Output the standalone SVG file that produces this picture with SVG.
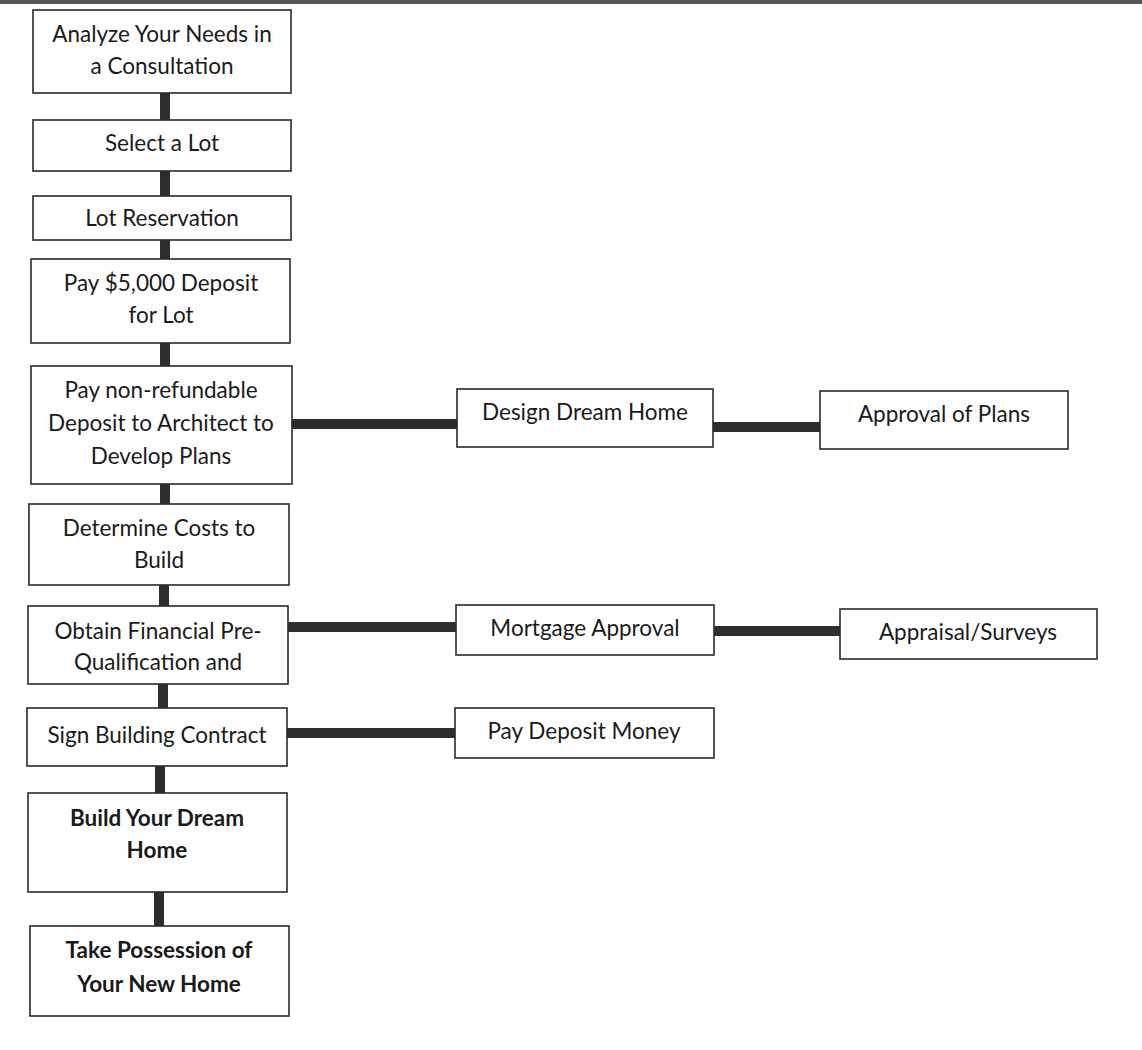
<svg xmlns="http://www.w3.org/2000/svg" width="1142" height="1050" viewBox="0 0 1142 1050">
<style>
.b{fill:#fff;stroke:#2a2a2a;stroke-width:1.6}
.t{font-family:Lato,"Open Sans",sans-serif;font-size:22.5px;fill:#1a1a1a;text-anchor:middle}
.bd{font-weight:bold;font-size:22.5px}
.c{stroke:#2e2e2e;stroke-width:10;fill:none}
</style>
<rect width="1142" height="1050" fill="#fff"/>
<rect width="1142" height="4" fill="#555"/>
<g id="connectors">
<path class="c" d="M165 93V120M165 171V196M165 240V259M165 343V366M165 484V504M164 585V606M163 684V708M160 766V793M159 892V926"/>
<path class="c" d="M292 424H457M713 427H820M288 627H456M714 631H840M287 733H455"/>
</g>
<g id="n1"><rect class="b" x="33" y="10" width="258" height="83"/><text class="t" x="162" y="42">Analyze Your Needs in</text><text class="t" x="162" y="74">a Consultation</text></g>
<g id="n2"><rect class="b" x="33" y="120" width="258" height="51"/><text class="t" x="162" y="151">Select a Lot</text></g>
<g id="n3"><rect class="b" x="33" y="196" width="258" height="44"/><text class="t" x="162" y="226">Lot Reservation</text></g>
<g id="n4"><rect class="b" x="31" y="259" width="259" height="84"/><text class="t" x="161" y="291">Pay $5,000 Deposit</text><text class="t" x="161" y="323">for Lot</text></g>
<g id="n5"><rect class="b" x="31" y="366" width="261" height="118"/><text class="t" x="161" y="398">Pay non-refundable</text><text class="t" x="161" y="431">Deposit to Architect to</text><text class="t" x="161" y="464">Develop Plans</text></g>
<g id="n6"><rect class="b" x="29" y="504" width="260" height="81"/><text class="t" x="159" y="536">Determine Costs to</text><text class="t" x="159" y="568">Build</text></g>
<g id="n7"><rect class="b" x="28" y="606" width="260" height="78"/><text class="t" x="158" y="639">Obtain Financial Pre-</text><text class="t" x="158" y="670">Qualification and</text></g>
<g id="n8"><rect class="b" x="27" y="708" width="260" height="58"/><text class="t" x="157" y="743">Sign Building Contract</text></g>
<g id="n9"><rect class="b" x="28" y="793" width="259" height="99"/><text class="t bd" x="157" y="826">Build Your Dream</text><text class="t bd" x="157" y="858">Home</text></g>
<g id="n10"><rect class="b" x="30" y="926" width="259" height="90"/><text class="t bd" x="159" y="958">Take Possession of</text><text class="t bd" x="159" y="992">Your New Home</text></g>
<g id="n11"><rect class="b" x="457" y="389" width="256" height="58"/><text class="t" x="585" y="420">Design Dream Home</text></g>
<g id="n12"><rect class="b" x="820" y="391" width="248" height="58"/><text class="t" x="944" y="422">Approval of Plans</text></g>
<g id="n13"><rect class="b" x="456" y="605" width="258" height="50"/><text class="t" x="585" y="636">Mortgage Approval</text></g>
<g id="n14"><rect class="b" x="840" y="609" width="257" height="50"/><text class="t" x="968" y="640">Appraisal/Surveys</text></g>
<g id="n15"><rect class="b" x="455" y="708" width="259" height="50"/><text class="t" x="584" y="739">Pay Deposit Money</text></g>
</svg>
